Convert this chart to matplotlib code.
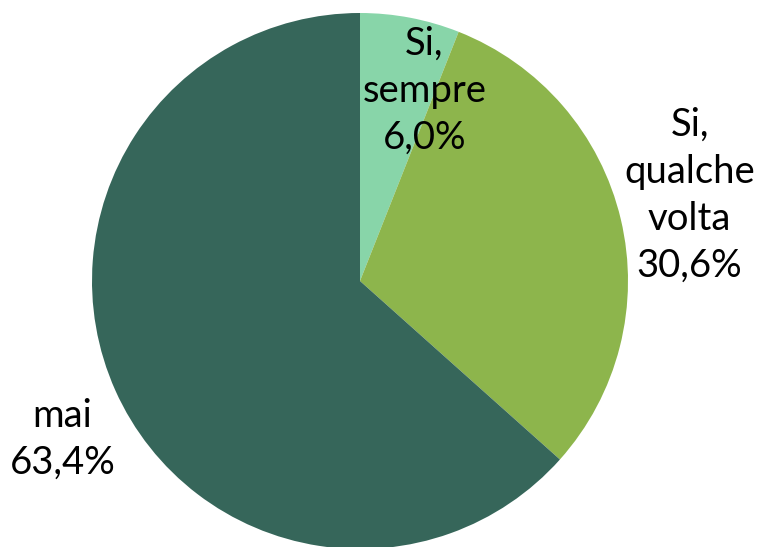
import matplotlib
matplotlib.use("Agg")
import matplotlib.pyplot as plt

plt.rcParams['font.family'] = ['Lato', 'DejaVu Sans']

# dati
categorie = ["Si,\nsempre", "Si,\nqualche\nvolta", "mai"]
valori = [6.0, 30.6, 63.4]
colori = ["#88d5a9", "#8db54c", "#36665a"]

# posizioni delle etichette (coordinate dati)
pos_etichette = [(0.24, 0.71), (1.23, 0.32), (-1.11, -0.59)]

fig = plt.figure(figsize=(7.7, 5.47), dpi=100)
ax = fig.add_axes([92 / 770, -2 / 547, 536 / 770, 536 / 547])

ax.pie(valori, colors=colori, startangle=90, counterclock=False,
       radius=1, wedgeprops={'linewidth': 0})

for cat, val, (x, y) in zip(categorie, valori, pos_etichette):
    testo = f"{cat}\n{val:.1f}%".replace('.', ',')
    ax.text(x, y, testo, ha='center', va='center', fontsize=27.5,
            linespacing=1.38, color='black')

ax.set_xlim(-1, 1)
ax.set_ylim(-1, 1)
ax.axis('off')

fig.savefig("out.png", dpi=100)
